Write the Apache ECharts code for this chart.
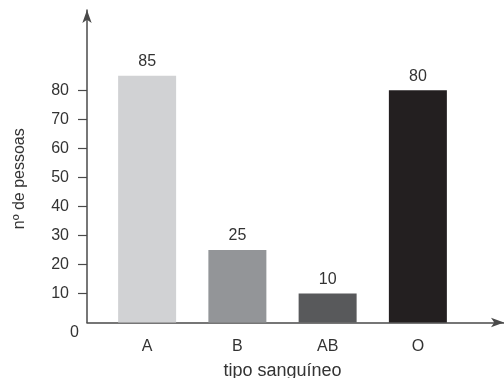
<!DOCTYPE html>
<html>
<head>
<meta charset="utf-8">
<script src="https://cdn.jsdelivr.net/npm/echarts@6/dist/echarts.min.js"></script>
<style>html,body{margin:0;padding:0;background:#fff}#c{width:504px;height:378px}</style>
</head>
<body>
<div id="c"></div>
<script>
const categories = ['A', 'B', 'AB', 'O'];
const values = [85, 25, 10, 80];
const barColors = ['#d1d2d4', '#939598', '#58595b', '#231f20'];
const yTickValues = [0, 10, 20, 30, 40, 50, 60, 70, 80];
const yTickMarks = [10, 20, 30, 40, 50, 60, 70, 80];
const xTitle = 'tipo sanguíneo';
const yTitle = 'nº de pessoas';

const yMax = 107.6;
const font = 'Liberation Sans, Arial, sans-serif';
const axisColor = '#4a4a4a';
const textColor = '#333';

const chart = echarts.init(document.getElementById('c'), null, {renderer: 'canvas'});
chart.setOption({
  animation: false,
  backgroundColor: '#fff',
  grid: [
    {left: 87, right: 0, top: 10, bottom: 55.5, containLabel: false, outerBoundsMode: 'none'},
    {left: 102, right: 41, top: 10, bottom: 55.5, containLabel: false, outerBoundsMode: 'none'}
  ],
  xAxis: [
    {
      gridIndex: 0, type: 'value', min: 0, max: 1,
      axisLine: {show: true, lineStyle: {color: axisColor, width: 1.5}, symbol: ['none', 'arrow'], symbolSize: [7, 13]},
      axisTick: {show: false}, axisLabel: {show: false}, splitLine: {show: false}
    },
    {
      gridIndex: 1, type: 'category', data: categories,
      axisLine: {show: false}, axisTick: {show: false}, splitLine: {show: false},
      axisLabel: {margin: 16, fontSize: 16, color: textColor, fontFamily: font},
      name: xTitle, nameLocation: 'middle', nameGap: 40,
      nameTextStyle: {fontSize: 18, color: textColor, fontFamily: font}
    }
  ],
  yAxis: [
    {
      gridIndex: 0, type: 'value', min: 0, max: yMax,
      axisLine: {show: true, lineStyle: {color: axisColor, width: 1.5}, symbol: ['none', 'arrow'], symbolSize: [7, 13]},
      axisTick: {show: true, length: 9, customValues: yTickMarks, lineStyle: {color: axisColor, width: 1.2}},
      splitLine: {show: false},
      axisLabel: {
        customValues: yTickValues, margin: 8, fontSize: 16, color: textColor, fontFamily: font,
        formatter: v => v === 0 ? '{z|0}' : '{n|' + v + '}',
        rich: {
          n: {padding: [0, 10, 0, 0], fontSize: 16, color: textColor, fontFamily: font},
          z: {padding: [20, 0, 0, 0], fontSize: 16, color: textColor, fontFamily: font}
        }
      },
      name: yTitle, nameLocation: 'middle', nameGap: 59,
      nameTextStyle: {fontSize: 16, color: textColor, fontFamily: font, padding: [0, 25, 0, 0]}
    },
    {
      gridIndex: 1, type: 'value', min: 0, max: yMax, show: false
    }
  ],
  series: [{
    type: 'bar', xAxisIndex: 1, yAxisIndex: 1, barWidth: 58,
    data: values.map((v, i) => ({value: v, itemStyle: {color: barColors[i]}})),
    label: {show: true, position: 'top', distance: 6, fontSize: 16, color: textColor, fontFamily: font}
  }]
});
</script>
</body>
</html>
